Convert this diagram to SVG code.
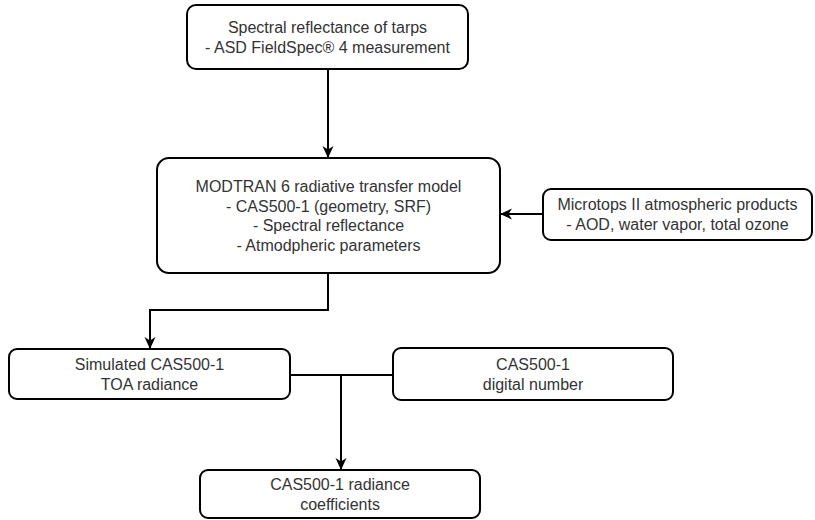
<svg xmlns="http://www.w3.org/2000/svg" width="815" height="520" viewBox="0 0 815 520">
<defs>
<style>
.box{fill:#fff;stroke:#000;stroke-width:2}
.t{font-family:"Liberation Sans",Arial,sans-serif;font-size:16px;fill:#333;text-anchor:middle}
.c{fill:none;stroke:#000;stroke-width:2}
</style>
<marker id="ah" viewBox="0 0 12 12" refX="11" refY="6" markerWidth="12" markerHeight="12" markerUnits="userSpaceOnUse" orient="auto">
<path d="M0,0.5 L12,6 L0,11.5 L3.5,6 Z" fill="#000"/>
</marker>
</defs>
<rect width="815" height="520" fill="#fff"/>
<g id="connectors">
<path class="c" d="M328,69 V157" marker-end="url(#ah)"/>
<path class="c" d="M542,214 H501" marker-end="url(#ah)"/>
<path class="c" d="M328,273 V310 H150 V348" marker-end="url(#ah)"/>
<path class="c" d="M290,375 H393"/>
<path class="c" d="M341,375 V469" marker-end="url(#ah)"/>
</g>
<g id="n1"><rect class="box" x="187" y="5" width="281" height="64" rx="9"/>
<text class="t" x="327.5" y="32.5">Spectral reflectance of tarps</text>
<text class="t" x="327.5" y="52.5">- ASD FieldSpec® 4 measurement</text></g>
<g id="n2"><rect class="box" x="157" y="158" width="343" height="115" rx="12"/>
<text class="t" x="328.5" y="192">MODTRAN 6 radiative transfer model</text>
<text class="t" x="328.5" y="211.5">- CAS500-1 (geometry, SRF)</text>
<text class="t" x="328.5" y="231">- Spectral reflectance</text>
<text class="t" x="328.5" y="250.5">- Atmodpheric parameters</text></g>
<g id="n3"><rect class="box" x="543" y="189" width="269" height="51" rx="8"/>
<text class="t" x="677.5" y="210">Microtops II atmospheric products</text>
<text class="t" x="677.5" y="230">- AOD, water vapor, total ozone</text></g>
<g id="n4"><rect class="box" x="9" y="349" width="281" height="50" rx="8"/>
<text class="t" x="149.5" y="370">Simulated CAS500-1</text>
<text class="t" x="149.5" y="390">TOA radiance</text></g>
<g id="n5"><rect class="box" x="393" y="348" width="280" height="52" rx="8"/>
<text class="t" x="533" y="370">CAS500-1</text>
<text class="t" x="533" y="390">digital number</text></g>
<g id="n6"><rect class="box" x="200" y="470" width="280" height="48" rx="8"/>
<text class="t" x="340" y="490">CAS500-1 radiance</text>
<text class="t" x="340" y="510">coefficients</text></g>
</svg>
